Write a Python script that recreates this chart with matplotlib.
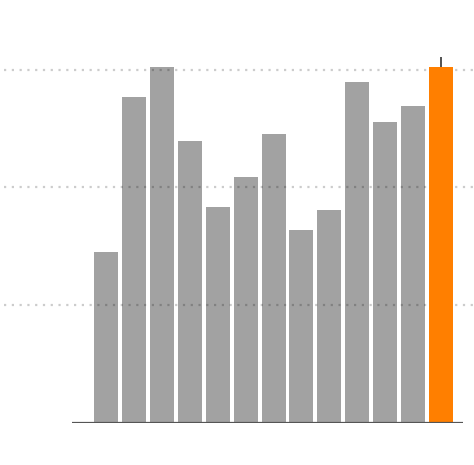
import matplotlib.pyplot as plt
import numpy as np

# bar heights (gridlines at 1, 2, 3)
values = [1.45, 2.77, 3.02, 2.39, 1.83, 2.09, 2.45, 1.64, 1.81, 2.89, 2.55, 2.69, 3.02]
grid_levels = [1, 2, 3]
highlight = 12

x = np.arange(len(values))
colors = ['#a2a2a2'] * len(values)
colors[highlight] = '#ff7f00'

fig = plt.figure(figsize=(4.74, 4.65), dpi=100)
ax = fig.add_axes([4 / 474, 1 - 422.5 / 465, 470 / 474, 382.5 / 465])

# dotted gridlines across the whole width, faintly visible over the grey bars
for g in grid_levels:
    ax.axhline(g, color='black', alpha=0.2, linestyle=(0, (1, 2.5)), linewidth=1.6, zorder=3)

ax.bar(x, values, width=0.86, color=colors, zorder=2)
# highlighted bar sits on top of the gridlines
ax.bar(x[highlight], values[highlight], width=0.86, color=colors[highlight], zorder=4)

# baseline
ax.hlines(0, -1.22, 12.79, color='#555555', linewidth=1.6, zorder=5)

# small tick over the highlighted bar
ax.vlines(highlight, values[highlight], values[highlight] + 0.085,
          color='#333333', linewidth=1.2, zorder=5, clip_on=False)

ax.set_xlim(-3.653, 13.18)
ax.set_ylim(0, 3.251)
ax.axis('off')

fig.savefig('out.png', dpi=100)
